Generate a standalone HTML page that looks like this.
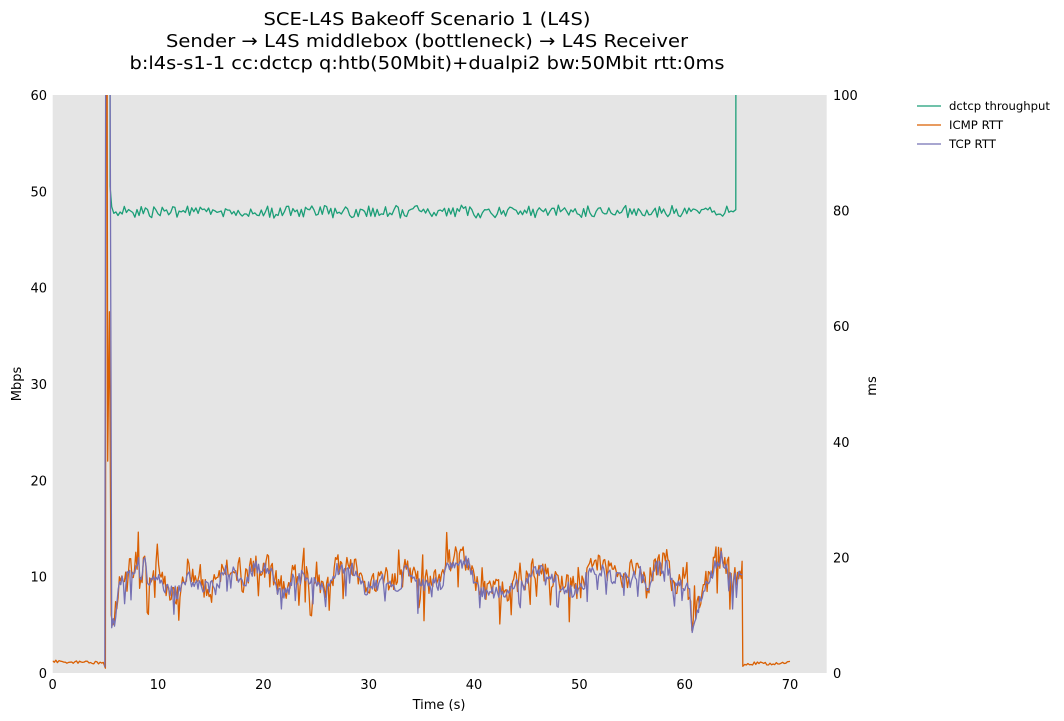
<!DOCTYPE html>
<html>
<head>
<meta charset="utf-8">
<style>
html,body{margin:0;padding:0;background:#fff;}
body{width:1064px;height:721px;overflow:hidden;}
svg{display:block;}
text{font-family:"DejaVu Sans","Liberation Sans",sans-serif;fill:#000;}
</style>
</head>
<body>
<svg id="chart" width="1064" height="721" viewBox="0 0 1064 721" xmlns="http://www.w3.org/2000/svg">
  <defs>
    <clipPath id="pa"><rect x="52.7" y="95" width="774" height="578"/></clipPath>
  </defs>
  <!-- title -->
  <text x="427" y="25" font-size="18" text-anchor="middle" textLength="327" lengthAdjust="spacingAndGlyphs">SCE-L4S Bakeoff Scenario 1 (L4S)</text>
  <text x="427" y="47" font-size="18" text-anchor="middle" textLength="522" lengthAdjust="spacingAndGlyphs">Sender → L4S middlebox (bottleneck) → L4S Receiver</text>
  <text x="427" y="69" font-size="18" text-anchor="middle" textLength="595" lengthAdjust="spacingAndGlyphs">b:l4s-s1-1 cc:dctcp q:htb(50Mbit)+dualpi2 bw:50Mbit rtt:0ms</text>

  <!-- plot background -->
  <rect x="52.7" y="95" width="774" height="578" fill="#e5e5e5"/>

  <g id="series" clip-path="url(#pa)" fill="none" stroke-width="1.3" stroke-linejoin="round"></g>

  <!-- left ticks -->
  <g font-size="13" text-anchor="end">
    <text x="47" y="678">0</text>
    <text x="47" y="581.7">10</text>
    <text x="47" y="485.3">20</text>
    <text x="47" y="389">30</text>
    <text x="47" y="292.7">40</text>
    <text x="47" y="196.3">50</text>
    <text x="47" y="100">60</text>
  </g>
  <!-- right ticks -->
  <g font-size="13" text-anchor="start">
    <text x="833" y="678">0</text>
    <text x="833" y="562.4">20</text>
    <text x="833" y="446.8">40</text>
    <text x="833" y="331.2">60</text>
    <text x="833" y="215.6">80</text>
    <text x="833" y="100">100</text>
  </g>
  <!-- x ticks -->
  <g font-size="13" text-anchor="middle">
    <text x="52.7" y="689">0</text>
    <text x="158" y="689">10</text>
    <text x="263.4" y="689">20</text>
    <text x="368.7" y="689">30</text>
    <text x="474" y="689">40</text>
    <text x="579.4" y="689">50</text>
    <text x="684.7" y="689">60</text>
    <text x="790" y="689">70</text>
  </g>
  <!-- axis labels -->
  <text x="439" y="709" font-size="13" text-anchor="middle">Time (s)</text>
  <text transform="translate(21,384) rotate(-90)" font-size="13" text-anchor="middle">Mbps</text>
  <text transform="translate(876,386) rotate(-90)" font-size="13" text-anchor="middle">ms</text>

  <!-- legend -->
  <line x1="917" y1="106" x2="941" y2="106" stroke="#1b9e77" stroke-width="1.3"/>
  <line x1="917" y1="125" x2="941" y2="125" stroke="#d95f02" stroke-width="1.3"/>
  <line x1="917" y1="144" x2="941" y2="144" stroke="#7570b3" stroke-width="1.3"/>
  <g font-size="11.5">
    <text x="949" y="110" textLength="101" lengthAdjust="spacingAndGlyphs">dctcp throughput</text>
    <text x="949" y="129" textLength="54" lengthAdjust="spacingAndGlyphs">ICMP RTT</text>
    <text x="949" y="148" textLength="47" lengthAdjust="spacingAndGlyphs">TCP RTT</text>
  </g>
</svg>
<script>
(function(){
  function mulberry32(a){return function(){a|=0;a=a+0x6D2B79F5|0;var t=Math.imul(a^a>>>15,1|a);t=t+Math.imul(t^t>>>7,61|t)^t;return((t^t>>>14)>>>0)/4294967296;};}
  var R=mulberry32(20240611);
  function X(t){return 52.7+t*10.533;}
  function Y(v){return 673-v*9.633;}
  function interp(E,t){
    for(var i=0;i<E.length-1;i++){
      if(t<=E[i+1][0]){var a=E[i],b=E[i+1];return a[1]+(b[1]-a[1])*(t-a[0])/(b[0]-a[0]);}
    }
    return E[E.length-1][1];
  }
  var env=[[5.6,4.7],[5.8,5.2],[6.07,6.5],[6.3,9],[6.6,9.5],[6.86,7.6],[7.0,10.7],[7.65,10.7],[8.1,11.8],[8.4,9.3],[8.7,11.8],[9.1,8.4],[9.5,10.5],[10.2,10],[10.8,8.8],[11.5,8.3],[12.2,8.5],[12.8,10.5],[13.3,10],[14,8.8],[15,9],[15.6,8.6],[16.2,10.8],[17,10.8],[17.5,10.2],[18,8.9],[18.7,10.5],[19.5,11],[20.5,10.8],[21.3,8.9],[22.2,8.3],[22.8,9.8],[24,10],[25,9.6],[26,8.7],[27,10.8],[28,11.3],[28.9,10.5],[29.5,8.7],[30.5,9],[31.4,9.6],[32.3,9.2],[33,9.2],[33.6,10.8],[34.2,10.2],[34.6,9.2],[36,9.2],[37,9.4],[37.4,11.2],[38.5,11.8],[39.6,11.2],[40,9.5],[40.6,8.3],[42,8.5],[43.4,8.4],[44,9.2],[45,9.3],[45.5,10.8],[46.6,10.4],[47.5,9.8],[48.2,8.8],[49.5,8.6],[50.4,9],[50.8,10.8],[52.6,10.6],[53.3,9.8],[54.5,9.8],[55,10.4],[55.8,10.4],[56.4,8.5],[57,10.7],[58.3,11.3],[58.9,8.8],[59.9,9.2],[60.5,8.3],[60.67,4.0],[61.1,6.2],[61.8,8.6],[62.4,10],[63.4,12],[64,11.2],[64.6,9.6],[65.25,10.4],[65.47,10.2]];

  // TCP RTT
  var tcp=[[4.95,0.6],[5.05,80],[5.4,80],[5.6,4.7]];
  for(var t=5.75;t<65.38;t+=0.12){
    var b=interp(env,t);
    var v=b+(R()-0.5)*1.5;
    if(R()<0.06)v-=1.2+R()*1.5;
    if(Math.abs(t-60.67)<0.1)v=b;
    tcp.push([t,v]);
  }
  tcp.push([65.47,10.2]);

  // ICMP RTT
  var icmp=[];
  for(var t2=0;t2<4.9;t2+=0.15){icmp.push([t2,1.2-t2*0.035+(R()-0.5)*0.3]);}
  icmp.push([5.0,0.5],[5.08,80],[5.15,80],[5.22,22],[5.38,37.5],[5.55,6],[5.7,5.0]);
  for(var t3=5.85;t3<65.38;t3+=0.12){
    var b2=interp(env,t3);
    var v2=b2+0.25+(R()-0.5)*2.6;
    var r=R();
    if(r<0.07)v2-=1.5+R()*2.5;
    else if(r>0.94)v2+=1.2+R()*1.2;
    if(Math.abs(t3-60.67)<0.1)v2=b2+0.3;
    icmp.push([t3,v2]);
  }
  icmp.push([65.45,11.6],[65.52,0.7]);
  for(var t4=65.7;t4<69.9;t4+=0.15){icmp.push([t4,1.0+(R()-0.5)*0.35]);}
  icmp.push([70,1.2]);

  // throughput
  var thr=[[5.3,200],[5.45,50.5],[5.6,48.4]];
  var i=0;
  for(var t5=5.8;t5<64.8;t5+=0.2){
    var s=(i%2)?1:-1;
    if(R()<0.25)s=-s;
    thr.push([t5,47.9+s*R()*0.6+(R()-0.5)*0.25]);
    i++;
  }
  thr.push([64.85,48.1],[64.95,200]);

  function path(pts){
    var d='';
    for(var k=0;k<pts.length;k++){d+=(k?'L':'M')+X(pts[k][0]).toFixed(1)+','+Y(pts[k][1]).toFixed(1);}
    return d;
  }
  var g=document.getElementById('series');
  var NS='http://www.w3.org/2000/svg';
  function add(pts,col){
    var p=document.createElementNS(NS,'path');
    p.setAttribute('d',path(pts));
    p.setAttribute('stroke',col);
    g.appendChild(p);
  }
  add(thr,'#1b9e77');
  add(icmp,'#d95f02');
  add(tcp,'#7570b3');
})();
</script>
</body>
</html>
